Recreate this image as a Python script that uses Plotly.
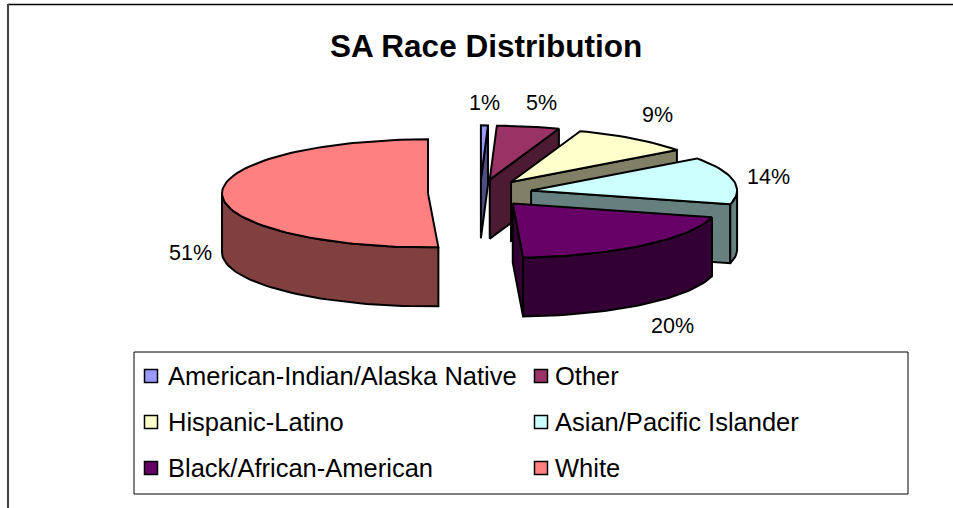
import numpy as np
import plotly.graph_objects as go

# --- data ---
categories = ["American-Indian/Alaska Native", "Other", "Hispanic-Latino",
              "Asian/Pacific Islander", "Black/African-American", "White"]
values = [0.55, 4.9, 9.45, 14.2, 20.1, 50.8]
labels = ["1%", "5%", "9%", "14%", "20%", "51%"]
top_colors = ["#9999FF", "#993366", "#FFFFCC", "#CCFFFF", "#660066", "#FF8080"]
side_colors = ["#4D4D80", "#4D1A33", "#808066", "#668080", "#330033", "#804040"]
title = "SA Race Distribution"

# --- projection of the tilted, exploded pie (page pixels) ---
CX, CY = 480.0, 193.0
RX, RY = 206.0, 54.0
DEPTH = 59.0
EXPLODE = 52.0
LINE = dict(color="black", width=2)
FONT = "Liberation Sans, Arial, sans-serif"

def pt(a, r=1.0, o=(0.0, 0.0)):
    return (o[0] + RX * r * np.sin(a), o[1] - RY * r * np.cos(a))

def arc(a0, a1, o):
    n = max(2, int(abs(a1 - a0) / np.radians(2)) + 1)
    t = np.linspace(a0, a1, n)
    return o[0] + RX * np.sin(t), o[1] - RY * np.cos(t)

fig = go.Figure()

def poly(xs, ys, fill):
    xs, ys = np.asarray(xs), np.asarray(ys)
    fig.add_trace(go.Scatter(x=np.r_[xs, xs[0]], y=np.r_[ys, ys[0]], mode="lines",
                             fill="toself", fillcolor=fill, line=LINE,
                             hoverinfo="skip", showlegend=False))

total = sum(values)
cum = np.cumsum([0] + values) / total * 2 * np.pi
for i, name in enumerate(categories):
    a0, a1 = cum[i], cum[i + 1]
    mid = (a0 + a1) / 2
    o = (CX + EXPLODE * np.sin(mid), CY - EXPLODE * RY / RX * np.cos(mid))
    # radial end wall (visible for slices on the right)
    if np.sin(a1) > 1e-6:
        ex, ey = pt(a1, 1.0, o)
        poly([o[0], ex, ex, o[0]], [o[1], ey, ey + DEPTH, o[1] + DEPTH], side_colors[i])
    # outer wall, front half only
    w0, w1 = max(a0, np.pi / 2), min(a1, 3 * np.pi / 2)
    if w1 > w0:
        ax, ay = arc(w0, w1, o)
        poly(np.r_[ax, ax[::-1]], np.r_[ay, ay[::-1] + DEPTH], side_colors[i])
    # top face
    ax, ay = arc(a0, a1, o)
    poly(np.r_[o[0], ax], np.r_[o[1], ay], top_colors[i])

# percentage labels
label_pos = [(484, 103), (541, 103), (657, 115), (768, 177), (672, 326), (190, 253)]
annotations = [dict(x=x, y=y, text=t, showarrow=False, xref="x", yref="y",
                    font=dict(family=FONT, size=21.5, color="black"))
               for (x, y), t in zip(label_pos, labels)]
annotations.append(dict(x=485.5, y=46, text=f"<b>{title}</b>", showarrow=False, xref="x", yref="y",
                        font=dict(family=FONT, size=31.5, color="black")))

# legend
leg_rows = [376, 422, 468]
leg_cols = [151, 541]
leg_text = [166, 553]
for i, name in enumerate(categories):
    x = leg_cols[i % 2]
    y = leg_rows[i // 2]
    fig.add_trace(go.Scatter(x=[x], y=[y], mode="markers", hoverinfo="skip", showlegend=False,
                             marker=dict(symbol="square", size=13, color=top_colors[i],
                                         line=dict(color="black", width=1.5))))
    annotations.append(dict(x=leg_text[i % 2], y=y, text=name, showarrow=False, xanchor="left",
                            xref="x", yref="y",
                            font=dict(family=FONT, size=25.5, color="black")))

shapes = [
    dict(type="rect", x0=134, y0=352, x1=908, y1=494, line=dict(color="black", width=1),
         fillcolor="rgba(0,0,0,0)", layer="below"),
    dict(type="line", x0=8, y0=4.5, x1=953, y1=4.5, line=dict(color="black", width=1.5)),
    dict(type="line", x0=8, y0=4, x1=8, y1=508, line=dict(color="#404040", width=2)),
]

fig.update_layout(
    width=953, height=508, margin=dict(l=0, r=0, t=0, b=0),
    paper_bgcolor="white", plot_bgcolor="white", showlegend=False,
    xaxis=dict(range=[0, 953], visible=False, fixedrange=True),
    yaxis=dict(range=[508, 0], visible=False, fixedrange=True),
    annotations=annotations, shapes=shapes,
)
fig.write_html("out.html", config=dict(displayModeBar=False),
               post_script="document.body.style.margin='0';document.body.style.overflow='hidden';")
